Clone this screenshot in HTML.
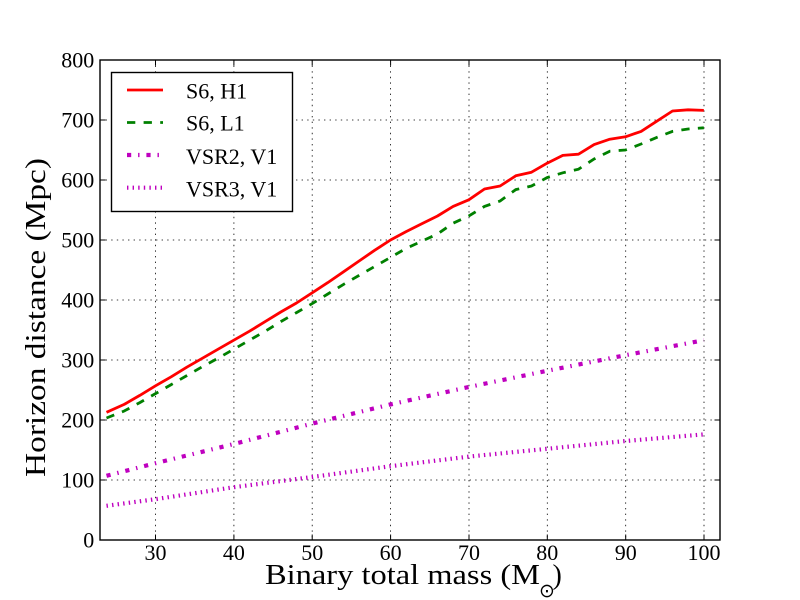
<!DOCTYPE html>
<html>
<head>
<meta charset="utf-8">
<style>
  html, body { margin: 0; padding: 0; background: #ffffff; }
  svg { display: block; }
  text { font-family: "Liberation Serif", "DejaVu Serif", serif; fill: #000; }
</style>
</head>
<body>
<svg width="800" height="600" viewBox="0 0 800 600" xmlns="http://www.w3.org/2000/svg">
  <rect x="0" y="0" width="800" height="600" fill="#ffffff"/>

  <!-- grid -->
  <g stroke="#000" stroke-width="0.8" stroke-dasharray="1.4,4.2" fill="none">
    <line x1="155.5" y1="60" x2="155.5" y2="540"/>
    <line x1="233.9" y1="60" x2="233.9" y2="540"/>
    <line x1="312.2" y1="60" x2="312.2" y2="540"/>
    <line x1="390.6" y1="60" x2="390.6" y2="540"/>
    <line x1="469.0" y1="60" x2="469.0" y2="540"/>
    <line x1="547.3" y1="60" x2="547.3" y2="540"/>
    <line x1="625.7" y1="60" x2="625.7" y2="540"/>
    <line x1="704.0" y1="60" x2="704.0" y2="540"/>
    <line x1="100" y1="480" x2="720" y2="480"/>
    <line x1="100" y1="420" x2="720" y2="420"/>
    <line x1="100" y1="360" x2="720" y2="360"/>
    <line x1="100" y1="300" x2="720" y2="300"/>
    <line x1="100" y1="240" x2="720" y2="240"/>
    <line x1="100" y1="180" x2="720" y2="180"/>
    <line x1="100" y1="120" x2="720" y2="120"/>
  </g>

  <!-- S6 H1 (red solid) -->
  <polyline fill="none" stroke="#ff0000" stroke-width="2.8" stroke-linejoin="round"
    points="106.5,412.3 124.2,404.4 139.8,395.4 155.5,385.8 171.2,376.8 186.8,367.2 202.5,358.2 218.1,349.2 233.8,340.2 249.5,331.2 265.2,321.6 280.8,312 296.5,303 312.2,292.8 327.8,282.6 343.5,271.8 359.1,261 374.8,250.2 390.5,240 406.1,231.6 421.8,223.8 437.5,216 453.1,206.4 468.8,199.8 484.5,189 500.1,186 515.8,175.8 531.5,172.2 547.1,163.2 562.8,155.4 578.5,154.2 594.1,144.6 609.8,139.2 625.5,136.8 641.1,131.4 656.8,121.2 672.5,111 688.1,109.8 703.8,110.4"/>

  <!-- S6 L1 (green dashed) -->
  <polyline fill="none" stroke="#008000" stroke-width="2.8" stroke-dasharray="8.3,8.3" stroke-linecap="butt"
    points="106.5,418 124.2,411 139.8,402.6 155.5,393.6 171.2,384.6 186.8,375.6 202.5,366.6 218.1,358.2 233.8,349.2 249.5,340.2 265.2,331.2 280.8,321.6 296.5,312.6 312.2,303.6 327.8,294 343.5,284.4 359.1,275.4 374.8,266.4 390.5,257.4 406.1,248.4 421.8,241.2 437.5,234 453.1,223.2 468.8,216 484.5,206.4 500.1,201 515.8,189.6 531.5,186 547.1,177.6 562.8,172.8 578.5,169.2 594.1,159 609.8,151.2 625.5,150 641.1,144 656.8,137.4 672.5,131.4 688.1,129 703.8,127.8"/>

  <!-- VSR2 V1 (magenta dash-dot) -->
  <polyline fill="none" stroke="#bf00bf" stroke-width="4.2" stroke-dasharray="4.2,6.9,1.4,6.9" stroke-linecap="butt"
    points="106.5,475.8 155.5,463.2 233.8,444 312.2,423.6 390.5,404.4 468.8,387 547.1,370.8 625.5,355.2 703.8,340.2"/>

  <!-- VSR3 V1 (magenta dotted) -->
  <polyline fill="none" stroke="#bf00bf" stroke-width="4.2" stroke-dasharray="1.4,4.2" stroke-linecap="butt"
    points="106.5,505.8 155.5,499.2 233.8,487.2 312.2,477 390.5,466.2 468.8,456.6 547.1,448.8 625.5,441 703.8,434.4"/>

  <!-- ticks -->
  <g stroke="#000" stroke-width="1">
    <line x1="155.5" y1="540" x2="155.5" y2="534.5"/><line x1="155.5" y1="60" x2="155.5" y2="65.5"/>
    <line x1="233.9" y1="540" x2="233.9" y2="534.5"/><line x1="233.9" y1="60" x2="233.9" y2="65.5"/>
    <line x1="312.2" y1="540" x2="312.2" y2="534.5"/><line x1="312.2" y1="60" x2="312.2" y2="65.5"/>
    <line x1="390.6" y1="540" x2="390.6" y2="534.5"/><line x1="390.6" y1="60" x2="390.6" y2="65.5"/>
    <line x1="469.0" y1="540" x2="469.0" y2="534.5"/><line x1="469.0" y1="60" x2="469.0" y2="65.5"/>
    <line x1="547.3" y1="540" x2="547.3" y2="534.5"/><line x1="547.3" y1="60" x2="547.3" y2="65.5"/>
    <line x1="625.7" y1="540" x2="625.7" y2="534.5"/><line x1="625.7" y1="60" x2="625.7" y2="65.5"/>
    <line x1="704.0" y1="540" x2="704.0" y2="534.5"/><line x1="704.0" y1="60" x2="704.0" y2="65.5"/>
    <line x1="100" y1="480" x2="105.5" y2="480"/><line x1="720" y1="480" x2="714.5" y2="480"/>
    <line x1="100" y1="420" x2="105.5" y2="420"/><line x1="720" y1="420" x2="714.5" y2="420"/>
    <line x1="100" y1="360" x2="105.5" y2="360"/><line x1="720" y1="360" x2="714.5" y2="360"/>
    <line x1="100" y1="300" x2="105.5" y2="300"/><line x1="720" y1="300" x2="714.5" y2="300"/>
    <line x1="100" y1="240" x2="105.5" y2="240"/><line x1="720" y1="240" x2="714.5" y2="240"/>
    <line x1="100" y1="180" x2="105.5" y2="180"/><line x1="720" y1="180" x2="714.5" y2="180"/>
    <line x1="100" y1="120" x2="105.5" y2="120"/><line x1="720" y1="120" x2="714.5" y2="120"/>
  </g>

  <!-- spines -->
  <rect x="100" y="60" width="620" height="480" fill="none" stroke="#000" stroke-width="1.4"/>

  <!-- y tick labels -->
  <g font-size="22" text-anchor="end">
    <text x="94.3" y="547.5">0</text>
    <text x="94.3" y="487.5">100</text>
    <text x="94.3" y="427.5">200</text>
    <text x="94.3" y="367.5">300</text>
    <text x="94.3" y="307.5">400</text>
    <text x="94.3" y="247.5">500</text>
    <text x="94.3" y="187.5">600</text>
    <text x="94.3" y="127.5">700</text>
    <text x="94.3" y="67.5">800</text>
  </g>

  <!-- x tick labels -->
  <g font-size="22" text-anchor="middle">
    <text x="155.5" y="560">30</text>
    <text x="233.9" y="560">40</text>
    <text x="312.2" y="560">50</text>
    <text x="390.6" y="560">60</text>
    <text x="469.0" y="560">70</text>
    <text x="547.3" y="560">80</text>
    <text x="625.7" y="560">90</text>
    <text x="704.0" y="560">100</text>
  </g>

  <!-- axis labels -->
  <text x="265" y="584" font-size="28" textLength="275" lengthAdjust="spacingAndGlyphs">Binary total mass (M</text>
  <text x="539" y="597" font-size="19" style="font-family: 'DejaVu Sans', sans-serif;">⊙</text>
  <text x="552.5" y="584" font-size="28">)</text>

  <text transform="translate(45,477) rotate(-90)" font-size="28" textLength="319" lengthAdjust="spacingAndGlyphs">Horizon distance (Mpc)</text>

  <!-- legend -->
  <rect x="111.5" y="72.5" width="181" height="139" fill="#ffffff" stroke="#000" stroke-width="1.4"/>
  <line x1="127" y1="90" x2="163" y2="90" stroke="#ff0000" stroke-width="2.8"/>
  <line x1="127" y1="122.5" x2="163" y2="122.5" stroke="#008000" stroke-width="2.8" stroke-dasharray="8.3,8.3"/>
  <line x1="127" y1="155" x2="163" y2="155" stroke="#bf00bf" stroke-width="4.2" stroke-dasharray="4.2,6.9,1.4,6.9"/>
  <line x1="127" y1="187.7" x2="163" y2="187.7" stroke="#bf00bf" stroke-width="4.2" stroke-dasharray="1.4,4.2"/>
  <g font-size="22">
    <text x="186" y="98.3">S6, H1</text>
    <text x="186" y="130.7">S6, L1</text>
    <text x="186" y="164">VSR2, V1</text>
    <text x="186" y="196.7">VSR3, V1</text>
  </g>
</svg>
</body>
</html>
